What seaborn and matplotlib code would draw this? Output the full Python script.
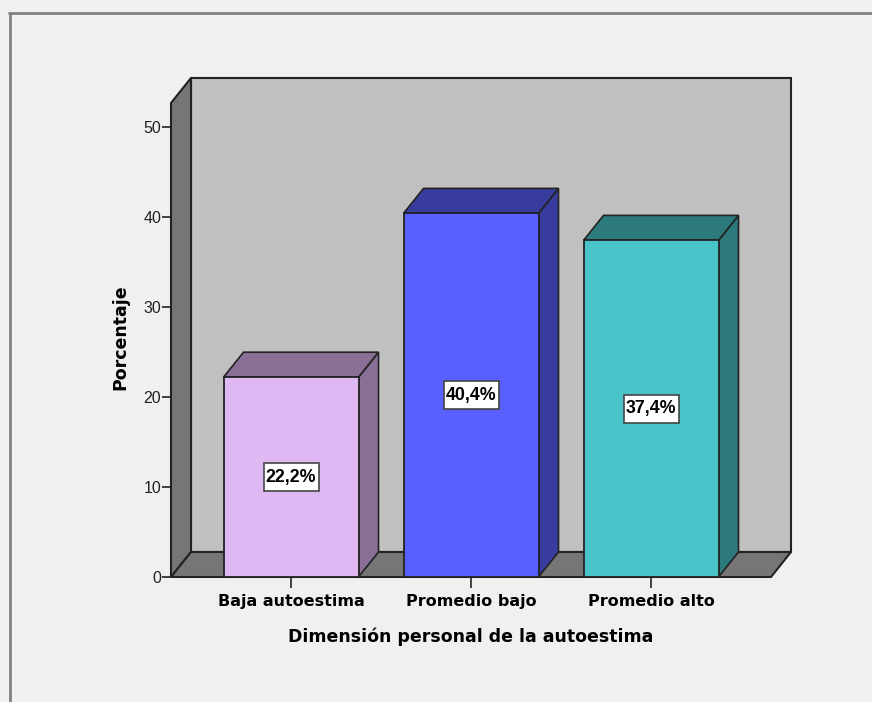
import matplotlib
matplotlib.use("Agg")
import matplotlib.pyplot as plt
from matplotlib.patches import Polygon, Rectangle
import pandas as pd
import seaborn as sns

categorias = ["Baja autoestima", "Promedio bajo", "Promedio alto"]
porcentajes = [22.2, 40.4, 37.4]
etiquetas = ["22,2%", "40,4%", "37,4%"]
ticks_y = [0, 10, 20, 30, 40, 50]

colores = ["#DEB8F2", "#5A5FFF", "#48C4C9"]
colores_oscuros = ["#8A7096", "#393C9F", "#2D7A7D"]

sns.set_theme(style="white")
plt.rcParams["font.family"] = ["Liberation Sans", "DejaVu Sans"]

W, H = 872, 702
fig = plt.figure(figsize=(W / 100, H / 100), dpi=100, facecolor="#F0F0F0")
ax = fig.add_axes([171 / W, 1 - 577 / H, 600 / W, 474 / H])
ax.patch.set_visible(False)

data = pd.DataFrame({"cat": categorias, "pct": porcentajes})
sns.barplot(
    data=data,
    x="cat",
    y="pct",
    hue="cat",
    palette=colores,
    saturation=1,
    width=0.75,
    edgecolor="#222222",
    linewidth=1.3,
    legend=False,
    ax=ax,
    zorder=5,
)

xmin, xmax = -2 / 3, 8 / 3
ymin, ymax = 0, 474 / 9
ax.set_xlim(xmin, xmax)
ax.set_ylim(ymin, ymax)

# profundidad del efecto 3D, en unidades de datos (20 px, 25 px)
dx = 20 / 180
dy = 25 / 9
# caja de las etiquetas, 55 x 28 px
caja_w = 55 / 180
caja_h = 28 / 9

borde = dict(edgecolor="#222222", linewidth=1.5, clip_on=False)

# paredes
ax.add_patch(Rectangle((xmin + dx, dy), xmax - xmin, ymax, facecolor="#C0C0C0", zorder=1, **borde))
ax.add_patch(
    Polygon(
        [(xmin, 0), (xmin + dx, dy), (xmin + dx, ymax + dy), (xmin, ymax)],
        facecolor="#767676",
        zorder=2,
        **borde,
    )
)
ax.add_patch(
    Polygon(
        [(xmin, 0), (xmax, 0), (xmax + dx, dy), (xmin + dx, dy)],
        facecolor="#767676",
        zorder=2,
        **borde,
    )
)

# caras laterales y superiores de cada barra
borde_barra = dict(edgecolor="#222222", linewidth=1.2, clip_on=False)
for i, bar in enumerate(ax.patches[: len(categorias)]):
    x0 = bar.get_x()
    x1 = x0 + bar.get_width()
    h = bar.get_height()
    ax.add_patch(
        Polygon(
            [(x1, 0), (x1 + dx, dy), (x1 + dx, h + dy), (x1, h)],
            facecolor=colores_oscuros[i],
            zorder=4,
            **borde_barra,
        )
    )
    ax.add_patch(
        Polygon(
            [(x0, h), (x1, h), (x1 + dx, h + dy), (x0 + dx, h + dy)],
            facecolor=colores_oscuros[i],
            zorder=4,
            **borde_barra,
        )
    )
    ax.add_patch(
        Rectangle(
            (i - caja_w / 2, h / 2 - caja_h / 2),
            caja_w,
            caja_h,
            facecolor="white",
            edgecolor="#444444",
            linewidth=1.2,
            zorder=6,
        )
    )
    ax.text(
        i,
        h / 2,
        etiquetas[i],
        ha="center",
        va="center",
        fontsize=12.8,
        fontweight="bold",
        color="black",
        zorder=7,
    )

sns.despine(ax=ax, left=True, bottom=True, top=True, right=True)
ax.set_yticks(ticks_y)
ax.set_xticks(range(len(categorias)))
ax.set_xticklabels(categorias, fontsize=11.5, fontweight="bold", color="black", family="DejaVu Sans")
ax.tick_params(axis="y", left=True, length=6.5, width=1.2, color="#222222", pad=0.5, labelsize=11.5, labelcolor="#222222")
ax.tick_params(axis="x", bottom=True, length=8, width=1.2, color="#222222", pad=4.5)
ax.set_xlabel("Dimensión personal de la autoestima", fontsize=12.5, fontweight="bold", color="black", family="DejaVu Sans", labelpad=13)
ax.set_ylabel("Porcentaje", fontsize=12.5, fontweight="bold", color="black", family="DejaVu Sans", labelpad=10, y=0.505)

# marco gris de la ventana
fig.add_artist(plt.Line2D([9.5 / W, 9.5 / W], [0, 1 - 13 / H], color="#808080", linewidth=2))
fig.add_artist(plt.Line2D([9 / W, 1], [1 - 13 / H, 1 - 13 / H], color="#808080", linewidth=2))

fig.savefig("out.png", dpi=100, facecolor=fig.get_facecolor())
